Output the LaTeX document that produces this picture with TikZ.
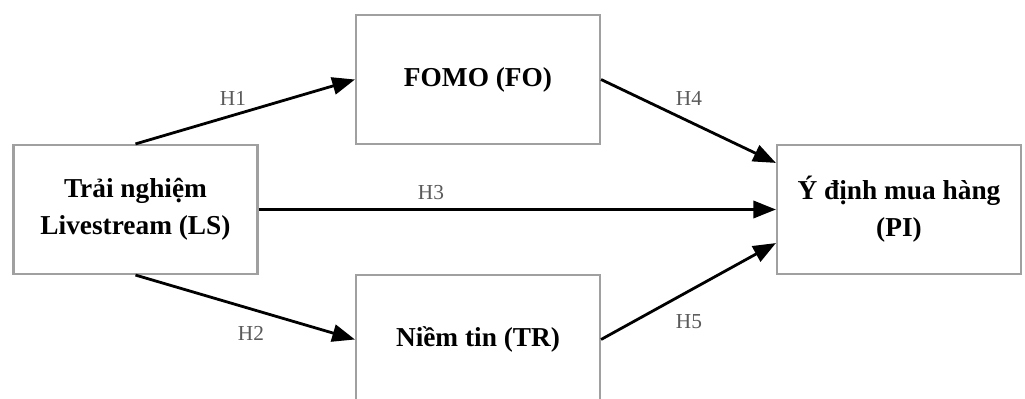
\documentclass[tikz,border=0pt]{standalone}
\usepackage{fontspec}
\setmainfont{Liberation Serif}
\usetikzlibrary{arrows.meta,calc}
\definecolor{boxgray}{RGB}{160,160,160}
\definecolor{labgray}{RGB}{90,90,90}
\tikzset{
  box/.style={draw=boxgray, line width=1.6pt, fill=white, minimum width=244*0.75pt, minimum height=129*0.75pt,
    inner sep=0pt, align=center, font=\fontsize{20.5}{28}\selectfont\bfseries},
  arr/.style={draw=black, line width=2.1pt, -{Triangle[length=17pt,width=13pt]}},
  lab/.style={text=labgray, font=\fontsize{16}{18}\selectfont, inner sep=0pt}
}
\begin{document}
\begin{tikzpicture}[x=0.75pt,y=-0.75pt]
\useasboundingbox (0,0) rectangle (1025,399);
\clip (0,0) rectangle (1025,399);
\node[box] (LS) at (135.5,209.5) {Trải nghiệm\\Livestream (LS)};
\node[box] (FO) at (478,79.5) {FOMO (FO)};
\node[box] (TR) at (478,339.5) {Niềm tin (TR)};
\node[box] (PI) at (899,209.5) {Ý định mua hàng\\(PI)};
\coordinate (PIa) at ($(PI.north west)+(0,19)$);
\coordinate (PIb) at ($(PI.south west)+(0,-32)$);
\draw[arr] (LS.north) -- (FO.west);
\draw[arr] (LS.south) -- (TR.west);
\draw[arr] (LS.east) -- (PI.west);
\draw[arr] (FO.east) -- (PIa);
\draw[arr] (TR.east) -- (PIb);
\node[lab] (h1) at (233,98) {H1};
\node[lab] (h4) at (689,98) {H4};
\node[lab] (h3) at (431,193) {H3};
\node[lab] (h2) at (251,333) {H2};
\node[lab] (h5) at (689,322) {H5};
\end{tikzpicture}
\end{document}
